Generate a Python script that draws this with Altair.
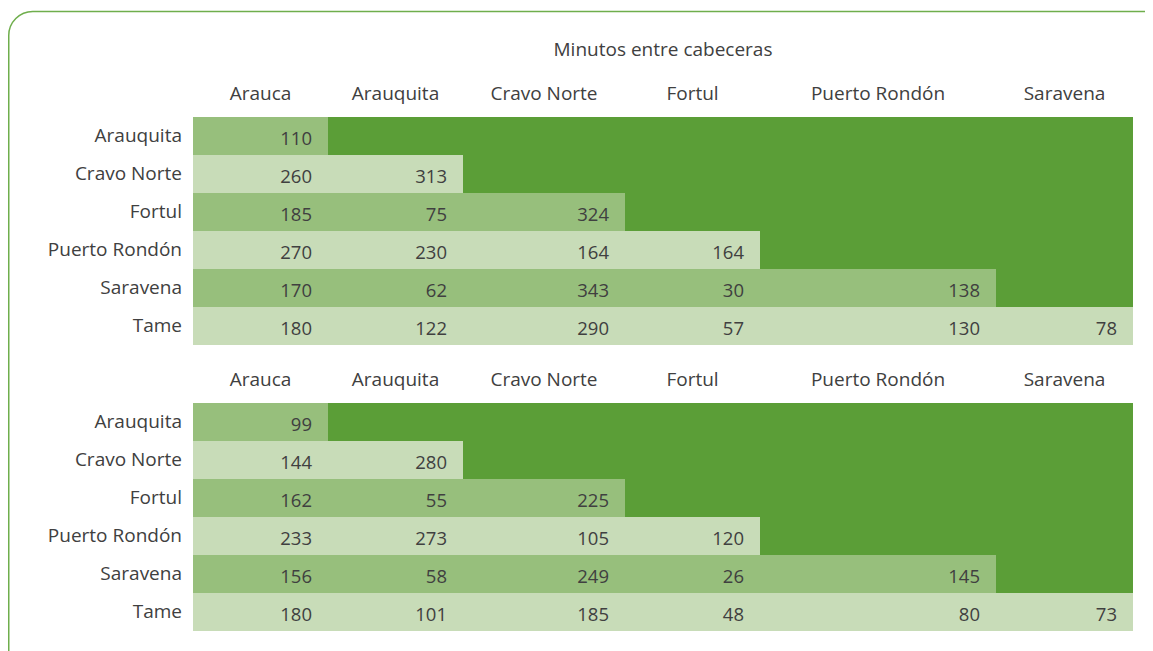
import altair as alt
import pandas as pd

# ---------------- data ----------------
TITLE = "Minutos entre cabeceras"
COLS = ["Arauca", "Arauquita", "Cravo Norte", "Fortul", "Puerto Rondón", "Saravena"]
ROWS = ["Arauquita", "Cravo Norte", "Fortul", "Puerto Rondón", "Saravena", "Tame"]
TABLE_A = [
    [110],
    [260, 313],
    [185, 75, 324],
    [270, 230, 164, 164],
    [170, 62, 343, 30, 138],
    [180, 122, 290, 57, 130, 78],
]
TABLE_B = [
    [99],
    [144, 280],
    [162, 55, 225],
    [233, 273, 105, 120],
    [156, 58, 249, 26, 145],
    [180, 101, 185, 48, 80, 73],
]
TABLES = [TABLE_A, TABLE_B]

# ---------------- layout ----------------
W, H = 1137, 650
LEFT_SPACE = 185
COL_WIDTHS = [135, 135, 162, 135, 236, 137]
ROW_H = 38
TABLE_TOPS = [106, 392]
HEADER_GAP = 22
TITLE_Y = 39
FRAME = dict(x=-184.25, x2=W - LEFT_SPACE + 40, y=0.5, y2=H + 40)
FONT = "Open Sans"
FS = 19
FS_NUM = 18.5
TXT = "#404040"
SHADES = ["dark", "mid", "light"]
SHADE_COLORS = ["#5b9e37", "#97bf7c", "#c8dcb8"]

edges = [0]
for w in COL_WIDTHS:
    edges.append(edges[-1] + w)

fill_rows, num_rows, lab_rows, head_rows = [], [], [], []
for t, table in enumerate(TABLES):
    top = TABLE_TOPS[t]
    fill_rows.append(dict(x=edges[0], x2=edges[-1], y=top, y2=top + ROW_H * len(table), shade="dark"))
    for i, vals in enumerate(table):
        y0 = top + i * ROW_H
        n = len(vals)
        fill_rows.append(dict(x=edges[0], x2=edges[n], y=y0, y2=y0 + ROW_H,
                              shade="mid" if i % 2 == 0 else "light"))
        for j, v in enumerate(vals):
            num_rows.append(dict(x=edges[j + 1], y=y0 + ROW_H / 2, text=str(v)))
        lab_rows.append(dict(x=edges[0], y=y0 + ROW_H / 2, text=ROWS[i]))
    for j, c in enumerate(COLS):
        head_rows.append(dict(x=(edges[j] + edges[j + 1]) / 2, y=top - HEADER_GAP, text=c))

title_df = pd.DataFrame([dict(x=edges[-1] / 2, y=TITLE_Y, text=TITLE)])

xs = alt.Scale(domain=[-LEFT_SPACE, W - LEFT_SPACE], nice=False, zero=False)
ys = alt.Scale(domain=[0, H], reverse=True, nice=False, zero=False)

X = alt.X("x:Q", scale=xs, axis=None)
Y = alt.Y("y:Q", scale=ys, axis=None)

frame = alt.Chart(pd.DataFrame([FRAME])).mark_rect(
    fill=None, fillOpacity=0, stroke="#6fae4c", strokeWidth=1.5, cornerRadius=24, clip=False
).encode(x=X, x2="x2:Q", y=Y, y2="y2:Q")

rects = alt.Chart(pd.DataFrame(fill_rows)).mark_rect(strokeWidth=0).encode(
    x=X, x2="x2:Q", y=Y, y2="y2:Q",
    color=alt.Color("shade:N", scale=alt.Scale(domain=SHADES, range=SHADE_COLORS), legend=None),
)

nums = alt.Chart(pd.DataFrame(num_rows)).mark_text(
    align="right", baseline="middle", dx=-16, dy=3, font=FONT, fontSize=FS_NUM, color=TXT
).encode(x=X, y=Y, text="text:N")

labels = alt.Chart(pd.DataFrame(lab_rows)).mark_text(
    align="right", baseline="middle", dx=-11, font=FONT, fontSize=FS, color=TXT
).encode(x=X, y=Y, text="text:N")

heads = alt.Chart(pd.DataFrame(head_rows)).mark_text(
    align="center", baseline="middle", dy=-1, font=FONT, fontSize=FS, color=TXT
).encode(x=X, y=Y, text="text:N")

title = alt.Chart(title_df).mark_text(
    align="center", baseline="middle", font=FONT, fontSize=FS, color=TXT
).encode(x=X, y=Y, text="text:N")

chart = alt.layer(frame, rects, nums, labels, heads, title).properties(
    width=W, height=H,
    padding={"left": 0, "top": 3, "right": 0, "bottom": 0},
    autosize=alt.AutoSizeParams(type="none"),
).configure_view(stroke=None)

chart.save("out.html", embed_options={"renderer": "svg", "actions": False})
